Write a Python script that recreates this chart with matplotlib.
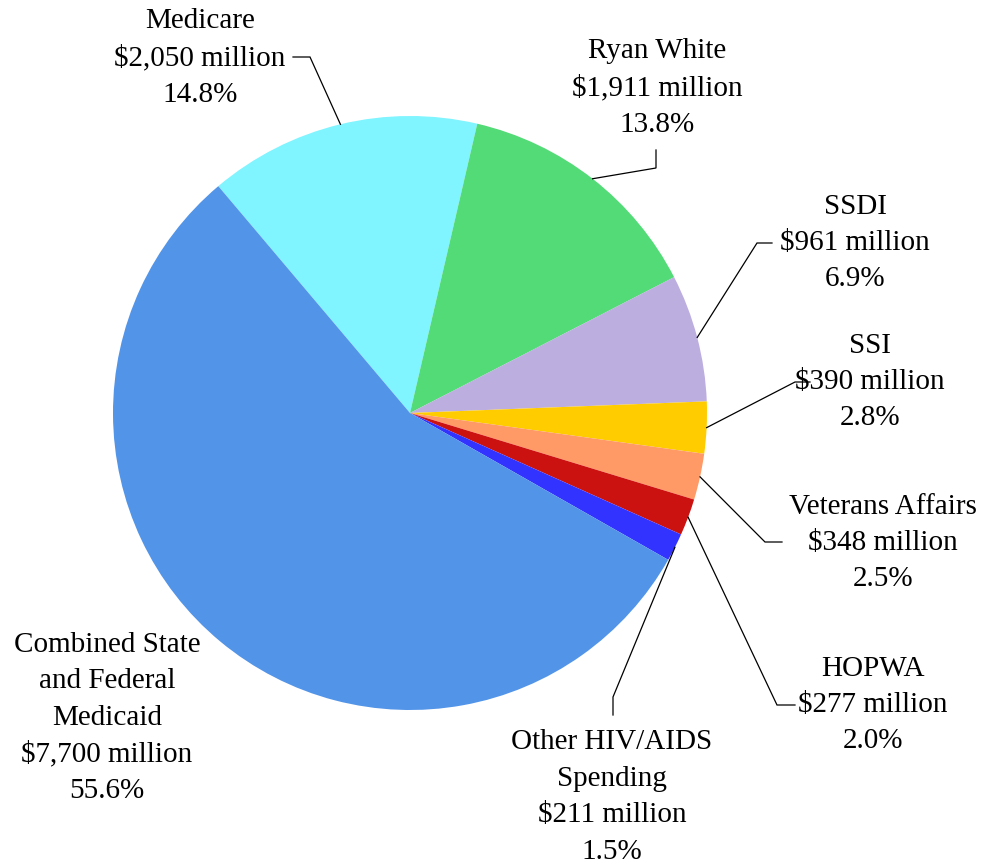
import numpy as np
import matplotlib.pyplot as plt

plt.rcParams['font.family'] = ['Liberation Serif', 'DejaVu Serif']

names = ['Medicare', 'Ryan White', 'SSDI', 'SSI', 'Veterans Affairs', 'HOPWA',
         'Other HIV/AIDS\nSpending', 'Combined State\nand Federal\nMedicaid']
millions = [2050, 1911, 961, 390, 348, 277, 211, 7700]
colors = ['#80F4FF', '#52DB77', '#BDAEE0', '#FFCC00', '#FF9966', '#CC1111',
          '#3333FF', '#5294E8']

# label placement in pixel space (y down): text centre, elbow, line end near text
label_pos = [(200, 58), (657, 88), (855, 243), (870, 382), (883, 543),
             (873, 705), (612, 797), (107, 718)]
elbows = [(310, 57), (656, 168), (757, 243), (795, 382), (765, 542),
          (777, 705), (613, 697), None]
line_ends = [(293, 57), (656, 150), (772, 243), (810, 382), (782, 542),
             (795, 705), (613, 715), None]

W, H = 990, 867
cx, cy, R = 410, H - 413, 297

fig = plt.figure(figsize=(W / 100, H / 100), dpi=100)
ax = fig.add_axes([0, 0, 1, 1])
wedges, _ = ax.pie(millions, colors=colors, startangle=130.2, counterclock=False,
                   center=(cx, cy), radius=R, wedgeprops=dict(linewidth=0))
ax.set_xlim(0, W)
ax.set_ylim(0, H)
ax.set_aspect('equal')
ax.axis('off')

total = sum(millions)
for i, w in enumerate(wedges):
    pct = 100 * millions[i] / total
    txt = f'{names[i]}\n${millions[i]:,} million\n{pct:.1f}%'
    tx, ty = label_pos[i]
    ax.text(tx, H - ty, txt, ha='center', va='center', fontsize=21,
            linespacing=1.52, color='black')
    if elbows[i] is None:
        continue
    mid = np.deg2rad((w.theta1 + w.theta2) / 2)
    px, py = cx + R * np.cos(mid), cy + R * np.sin(mid)
    ex, ey = elbows[i]
    lx, ly = line_ends[i]
    ax.plot([px, ex, lx], [py, H - ey, H - ly], color='black', lw=0.9,
            solid_joinstyle='miter')

plt.savefig('out.png', dpi=100)
